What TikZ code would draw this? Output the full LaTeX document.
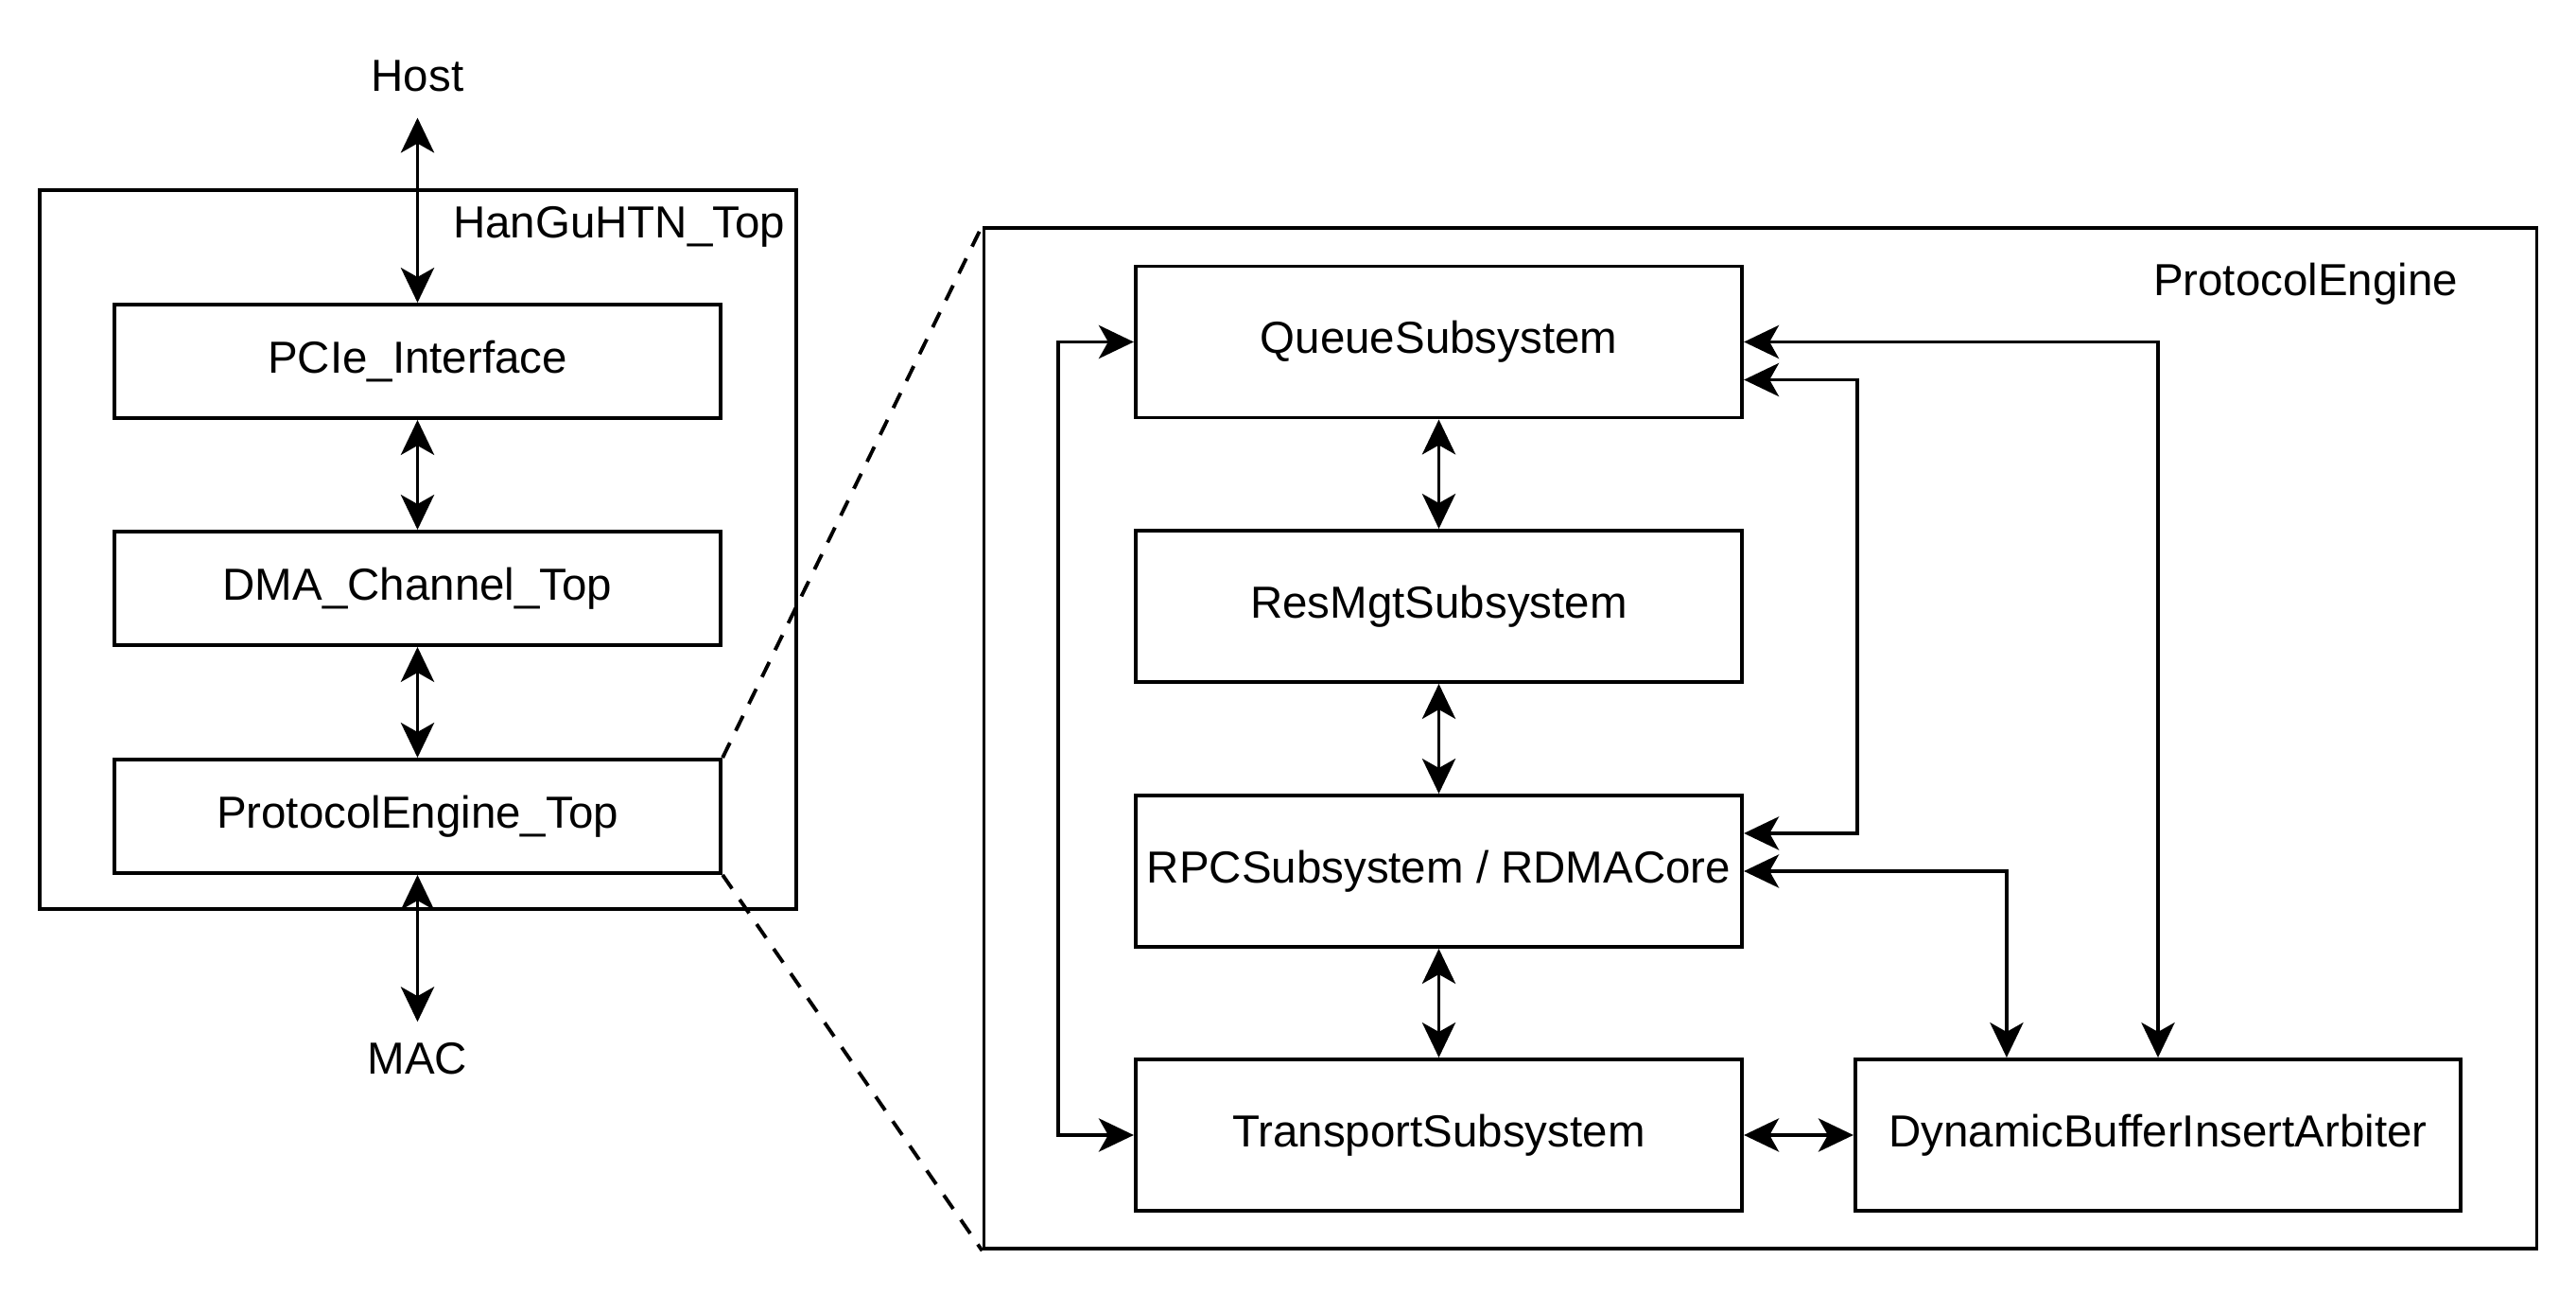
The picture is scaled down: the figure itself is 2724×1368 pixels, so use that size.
\documentclass[tikz,border=0pt]{standalone}
\usepackage{fontspec}
\setmainfont{Liberation Sans}
\usetikzlibrary{arrows.meta}
\begin{document}
\begin{tikzpicture}[x=0.01cm,y=-0.01cm,
  font=\fontsize{13.5pt}{16pt}\selectfont,
  line width=1.1pt,
  box/.style={draw, inner sep=0pt, minimum width=6.41cm},
  lbox/.style={box, minimum height=1.2cm},
  rbox/.style={box, minimum height=1.6cm},
  frame/.style={draw, inner sep=0pt},
  plain/.style={inner sep=0pt},
  bi/.style={{Stealth[length=10.5pt,width=10pt,inset=2.8pt]}-{Stealth[length=10.5pt,width=10pt,inset=2.8pt]}},
  zoomline/.style={dashed, dash pattern=on 5pt off 4pt}
]
\useasboundingbox (0,0) rectangle (2724,1368);
% left frame
\node[frame, minimum width=8cm, minimum height=7.6cm] (outerL) at (442,581) {};
\node[plain, anchor=east] (lblL) at (832,240) {HanGuHTN\_Top};
\node[lbox] (pcie) at (441.5,382) {PCIe\_Interface};
\node[lbox] (dma) at (441.5,622) {DMA\_Channel\_Top};
\node[lbox] (pe) at (441.5,863) {ProtocolEngine\_Top};
\node[plain] (host) at (441.5,80) {Host};
\node[plain] (mac) at (441.5,1119) {MAC};
% right frame
\node[frame, minimum width=16.41cm, minimum height=10.79cm] (outerR) at (1861.5,780.5) {};
\node[plain, anchor=east] (lblR) at (2601,300) {ProtocolEngine};
\node[rbox] (queue) at (1521.5,361.5) {QueueSubsystem};
\node[rbox] (res) at (1521.5,641) {ResMgtSubsystem};
\node[rbox] (rpc) at (1521.5,921) {RPCSubsystem / RDMACore};
\node[rbox] (trans) at (1521.5,1200) {TransportSubsystem};
\node[rbox, minimum width=6.4cm] (dbia) at (2282,1200) {DynamicBufferInsertArbiter};
% zoom lines
\draw[zoomline] (pe.north east) -- (outerR.north west);
\draw[zoomline] (pe.south east) -- (outerR.south west);
% left connectors
\draw[bi, shorten <=0.26cm] (host.south) -- (pcie.north);
\draw[bi] (pcie.south) -- (dma.north);
\draw[bi] (dma.south) -- (pe.north);
\draw[bi, shorten >=0.2cm] (pe.south) -- (mac.north);
% right connectors
\draw[bi] (queue.south) -- (res.north);
\draw[bi] (res.south) -- (rpc.north);
\draw[bi] (rpc.south) -- (trans.north);
\draw[bi] (trans.east) -- (dbia.west);
\draw[bi] (queue.west) -- ++(-80,0) |- (trans.west);
\draw[bi] (queue.east) -| (dbia.north);
\draw[bi] ([yshift=-0.4cm]queue.east) -- ++(120,0) |- ([yshift=0.4cm]rpc.east);
\draw[bi] (rpc.east) -| ([xshift=-1.6cm]dbia.north);
\end{tikzpicture}
\end{document}
